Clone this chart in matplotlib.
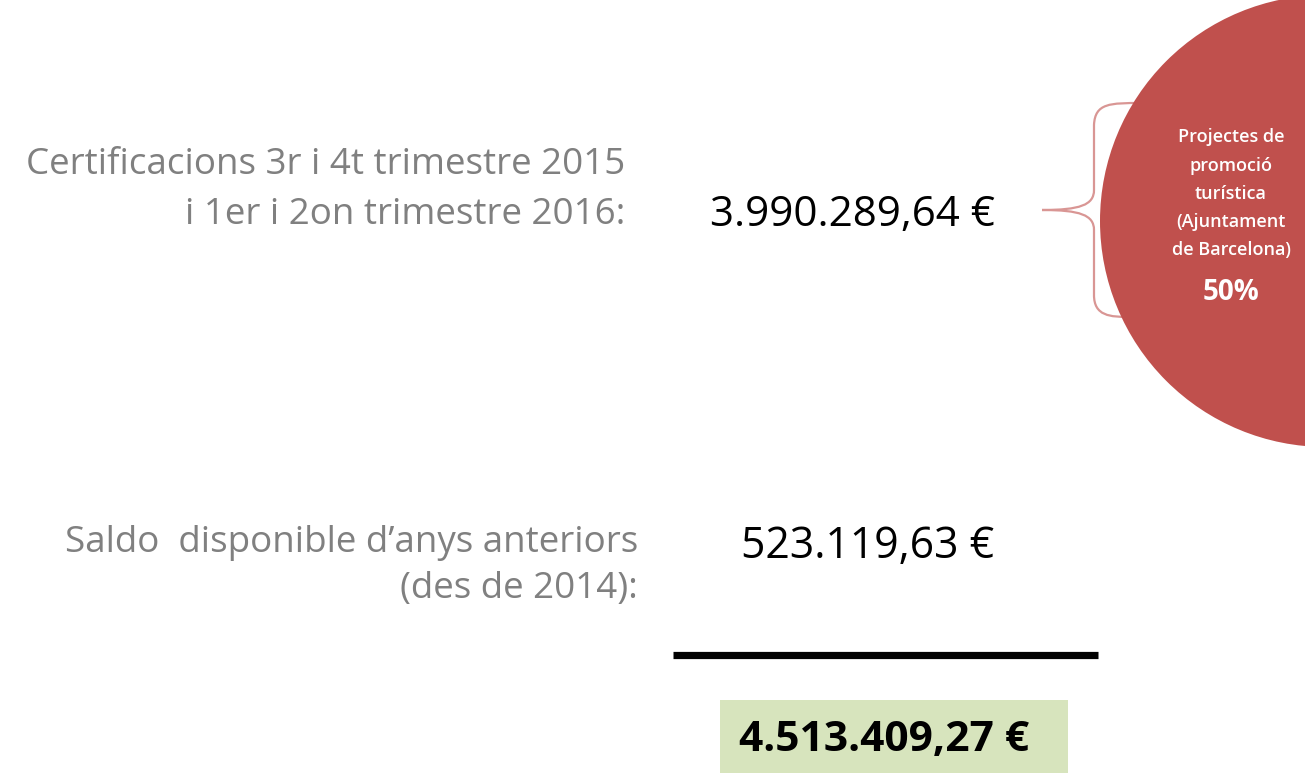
import matplotlib
matplotlib.use("Agg")
import matplotlib.pyplot as plt
from matplotlib.patches import Circle, Rectangle, PathPatch
from matplotlib.path import Path

# ---- content ----
label_lines_1 = ["Certificacions 3r i 4t trimestre 2015", "i 1er i 2on trimestre 2016:"]
value_1 = "3.990.289,64 €"
label_lines_2 = ["Saldo  disponible d\u2019anys anteriors", "(des de 2014):"]
value_2 = "523.119,63 €"
total_value = "4.513.409,27 €"
circle_lines = ["Projectes de", "promoció", "turística", "(Ajuntament", "de Barcelona)"]
circle_pct = "50%"

W, H = 1305, 773
fig = plt.figure(figsize=(W / 100, H / 100), dpi=100)
ax = fig.add_axes([0, 0, 1, 1])
ax.set_xlim(0, W)
ax.set_ylim(H, 0)
ax.axis("off")

FONT = "Open Sans"
grey = "#808080"

# grey labels (right aligned)
for i, t in enumerate(label_lines_1):
    ax.text(625, 174 + i * 50, t, ha="right", va="baseline", fontsize=26.5,
            color=grey, family=FONT)
for i, t in enumerate(label_lines_2):
    ax.text(638, 552 + i * 46, t, ha="right", va="baseline", fontsize=26.5,
            color=grey, family=FONT)

# values
ax.text(710, 226, value_1, ha="left", va="baseline", fontsize=30.3,
        color="black", family=FONT)
ax.text(741, 558, value_2, ha="left", va="baseline", fontsize=30.8,
        color="black", family=FONT)

# sum line
ax.plot([673, 1098], [655, 655], color="black", lw=5.2, solid_capstyle="butt")

# total box
ax.add_patch(Rectangle((720, 700), 348, 80, facecolor="#d7e4bd", edgecolor="none"))
ax.text(739, 751, total_value, ha="left", va="baseline", fontsize=30.6,
        fontweight="bold", color="black", family=FONT)

# brace
verts = [
    (1142, 103), (1110, 103), (1095, 103), (1094, 125),
    (1094, 190),
    (1094, 205), (1080, 210), (1042, 210),
    (1080, 210), (1094, 215), (1094, 230),
    (1094, 295),
    (1094, 316), (1110, 317), (1130, 317),
]
codes = [Path.MOVETO, Path.CURVE4, Path.CURVE4, Path.CURVE4,
         Path.LINETO,
         Path.CURVE4, Path.CURVE4, Path.CURVE4,
         Path.CURVE4, Path.CURVE4, Path.CURVE4,
         Path.LINETO,
         Path.CURVE4, Path.CURVE4, Path.CURVE4]
ax.add_patch(PathPatch(Path(verts, codes), facecolor="none",
                       edgecolor="#d99694", lw=1.6, zorder=2))

# circle
ax.add_patch(Circle((1326, 221), 226, facecolor="#c0504d", edgecolor="none", zorder=3))
ys = [137, 166, 194, 222, 250]
for y, t in zip(ys, circle_lines):
    ax.text(1231, y, t, ha="center", va="center", fontsize=13,
            color="white", family=FONT, fontweight="semibold", zorder=4)
ax.text(1231, 292, circle_pct, ha="center", va="center", fontsize=20,
        color="white", family=FONT, fontweight="bold", zorder=4)

fig.savefig("out.png", dpi=100)
